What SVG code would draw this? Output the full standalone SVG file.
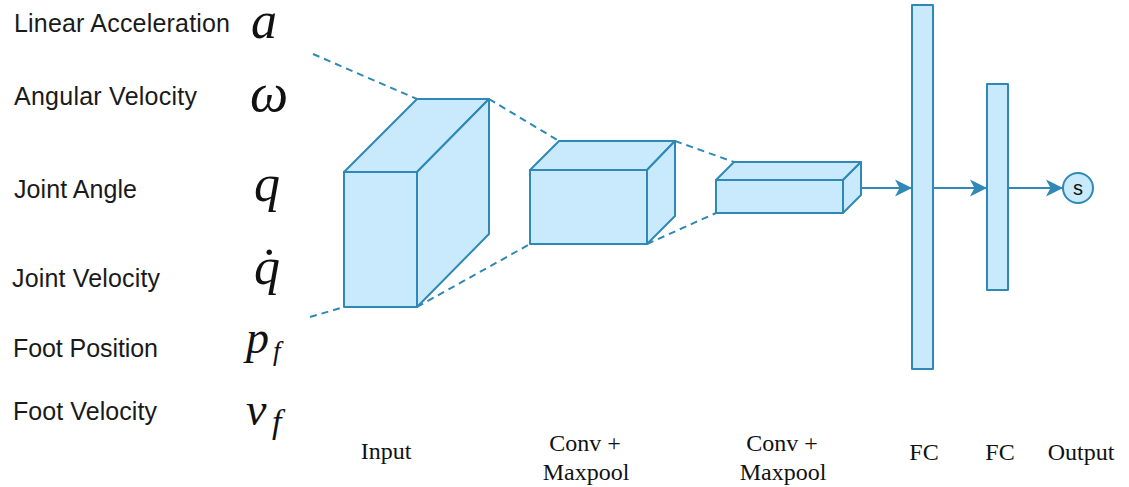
<svg xmlns="http://www.w3.org/2000/svg" width="1129" height="487" viewBox="0 0 1129 487">
  <style>
    .lbl { font-family: "Liberation Sans", Arial, sans-serif; font-size: 25px; fill: #1a1a1a; }
    .math { font-family: "Liberation Serif", "Times New Roman", serif; font-style: italic; fill: #111; }
    .cap { font-family: "Liberation Serif", "Times New Roman", serif; font-size: 24px; fill: #111; text-anchor: middle; }
    .face { fill: #c8eafc; stroke: #2f88b5; stroke-width: 2; stroke-linejoin: round; }
    .dash { stroke: #2f88b5; stroke-width: 2; stroke-dasharray: 7 5; fill: none; }
    .flow { stroke: #2f88b5; stroke-width: 2; fill: none; }
  </style>
  <defs>
    <marker id="arrow" markerUnits="userSpaceOnUse" markerWidth="20" markerHeight="20" refX="17" refY="10" orient="auto">
      <path d="M0,1.5 L17,10 L0,18.5 L4.5,10 Z" fill="#2f88b5"/>
    </marker>
  </defs>
  <rect width="1129" height="487" fill="#ffffff"/>

  <!-- input feature names -->
  <g id="labels">
    <text class="lbl" x="14" y="32" textLength="216" lengthAdjust="spacing">Linear Acceleration</text>
    <text class="lbl" x="14" y="105" textLength="183" lengthAdjust="spacing">Angular Velocity</text>
    <text class="lbl" x="14" y="198" textLength="123" lengthAdjust="spacing">Joint Angle</text>
    <text class="lbl" x="12" y="287" textLength="148" lengthAdjust="spacing">Joint Velocity</text>
    <text class="lbl" x="13" y="357" textLength="145" lengthAdjust="spacing">Foot Position</text>
    <text class="lbl" x="13" y="420" textLength="144" lengthAdjust="spacing">Foot Velocity</text>
  </g>

  <!-- symbols -->
  <g id="symbols">
    <text class="math" x="251" y="38" font-size="52">a</text>
    <text class="math" x="250" y="111" font-size="54">ω</text>
    <text class="math" x="254" y="201" font-size="52">q</text>
    <text class="math" x="254" y="284" font-size="52">q&#x307;</text>
    <text class="math" x="246" y="353" font-size="46">p</text>
    <text class="math" x="273" y="360" font-size="27">f</text>
    <text class="math" x="246" y="425" font-size="46">v</text>
    <text class="math" x="272" y="433" font-size="34">f</text>
  </g>

  <!-- connectors -->
  <g id="connectors">
    <line class="dash" x1="313" y1="54" x2="417" y2="99"/>
    <line class="dash" x1="310" y1="317" x2="344" y2="307"/>
    <line class="dash" x1="489" y1="99" x2="559" y2="141"/>
    <line class="dash" x1="417" y1="307" x2="530" y2="244"/>
    <line class="dash" x1="675" y1="141" x2="734" y2="162"/>
    <line class="dash" x1="647" y1="244" x2="716" y2="213"/>
    <line class="flow" x1="861" y1="188" x2="912" y2="188" marker-end="url(#arrow)"/>
    <line class="flow" x1="933" y1="188" x2="987" y2="188" marker-end="url(#arrow)"/>
    <line class="flow" x1="1008" y1="188" x2="1063" y2="188" marker-end="url(#arrow)"/>
  </g>

  <!-- input volume -->
  <g id="input">
    <rect class="face" x="344" y="172" width="73" height="135"/>
    <polygon class="face" points="344,172 417,99 489,99 417,172"/>
    <polygon class="face" points="417,172 489,99 489,234 417,307"/>
  </g>

  <!-- first conv + maxpool volume -->
  <g id="conv1">
    <rect class="face" x="530" y="170" width="117" height="74"/>
    <polygon class="face" points="530,170 559,141 675,141 647,170"/>
    <polygon class="face" points="647,170 675,141 675,216 647,244"/>
  </g>

  <!-- second conv + maxpool volume -->
  <g id="conv2">
    <rect class="face" x="716" y="180" width="127" height="33"/>
    <polygon class="face" points="716,180 734,162 861,162 843,180"/>
    <polygon class="face" points="843,180 861,162 861,195 843,213"/>
  </g>

  <!-- fully connected layers -->
  <g id="fc1">
    <rect class="face" x="912" y="5" width="21" height="364"/>
  </g>
  <g id="fc2">
    <rect class="face" x="987" y="84" width="21" height="206"/>
  </g>

  <!-- output unit -->
  <g id="output">
    <circle class="face" cx="1078" cy="188" r="15"/>
    <text x="1078" y="195" font-family="Liberation Sans, Arial, sans-serif" font-size="20" text-anchor="middle" fill="#111">s</text>
  </g>

  <!-- layer captions -->
  <g id="captions">
    <text class="cap" x="386" y="459">Input</text>
    <text class="cap" x="585" y="451">Conv +</text>
    <text class="cap" x="586" y="480">Maxpool</text>
    <text class="cap" x="782" y="451">Conv +</text>
    <text class="cap" x="783" y="480">Maxpool</text>
    <text class="cap" x="924" y="460">FC</text>
    <text class="cap" x="1000" y="460">FC</text>
    <text class="cap" x="1081" y="460">Output</text>
  </g>
</svg>
